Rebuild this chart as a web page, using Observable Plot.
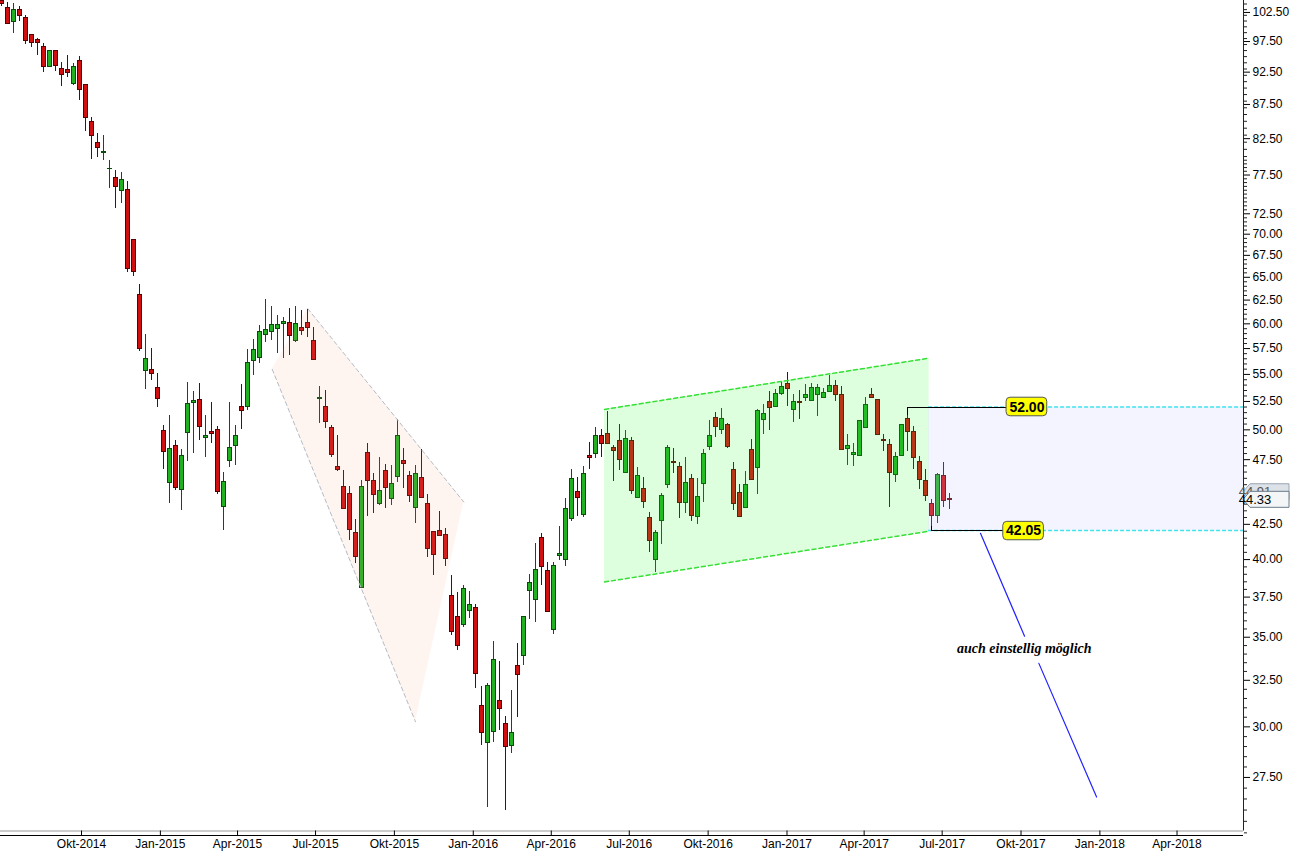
<!DOCTYPE html>
<html>
<head>
<meta charset="utf-8">
<script src="https://cdn.jsdelivr.net/npm/d3@7"></script>
<script src="https://cdn.jsdelivr.net/npm/@observablehq/plot@0.6"></script>
<style>
  html, body { margin: 0; padding: 0; background: #fff; }
  #chart svg { display: block; }
</style>
</head>
<body>
<div id="chart"></div>
<script>
// ---- Weekly OHLC (first candle: week of 2014-06-30) ----
const open = [
104.63,103.37,100.79,102.85,101.61,98.52,97.83,96.66,93.28,95.85,93.07,92.91,90.60,94.37,90.55,84.97,81.83,80.53,78.24,77.17,
75.38,75.47,69.28,63.00,55.36,55.39,53.69,49.93,45.67,48.66,45.12,49.76,52.39,52.65,49.33,49.79,50.02,43.81,47.43,48.66,
51.97,51.99,56.32,56.60,58.89,59.20,59.50,60.02,60.12,58.25,59.60,60.12,58.22,52.70,51.97,50.19,46.94,45.30,44.75,41.87,
38.12,48.08,45.75,44.04,46.62,44.42,46.13,47.43,46.21,43.73,46.05,44.04,41.93,41.98,41.71,37.60,36.26,35.77,36.64,36.83,
31.07,29.16,29.76,31.34,30.13,29.01,33.29,33.86,37.87,37.34,41.54,39.25,35.46,40.28,40.00,42.92,44.93,43.22,47.83,48.00,
49.50,49.68,48.49,49.08,46.46,49.08,44.49,45.20,42.99,40.00,42.78,45.51,47.34,46.94,44.11,45.97,43.07,45.59,48.58,51.06,
50.02,50.45,46.69,44.88,43.73,48.32,46.85,50.88,52.48,52.03,53.21,54.13,51.76,52.48,52.84,52.55,53.11,52.84,53.39,53.94,
53.11,48.41,47.91,47.83,50.19,53.11,52.65,49.16,48.75,46.29,47.83,50.97,49.85,47.34,45.75,44.04,43.14,46.21,44.40];
const high = [
105.30,104.27,104.09,103.55,101.97,98.69,98.00,97.17,96.01,96.01,94.05,95.18,93.88,95.02,90.60,85.56,83.24,82.95,79.47,78.11,
77.84,76.65,69.40,64.22,58.92,57.49,55.08,50.39,51.27,49.11,48.32,54.22,53.42,54.13,51.27,52.42,50.31,46.50,52.42,50.39,
54.04,57.42,58.38,59.84,62.57,61.83,60.88,60.64,61.61,61.83,61.41,61.50,59.60,53.85,53.51,50.34,49.50,46.62,45.32,42.84,
45.85,48.83,46.38,47.66,47.10,47.02,50.88,48.41,46.54,47.02,48.32,44.73,42.00,43.47,42.21,38.91,37.80,38.25,37.87,37.02,
32.16,32.33,34.74,33.57,30.55,31.94,34.62,36.30,38.98,41.12,41.83,39.79,39.79,42.34,44.42,46.69,46.05,46.96,48.92,50.19,
50.02,51.62,48.66,50.45,49.93,49.33,46.85,46.05,43.37,42.05,44.80,48.66,48.41,47.26,47.66,46.29,45.97,48.32,50.80,51.51,
51.85,50.54,47.26,45.51,46.54,49.16,51.76,52.21,53.39,53.57,54.32,55.17,53.11,53.46,54.04,54.13,54.04,53.66,54.88,54.41,
53.85,49.59,48.83,50.85,52.84,53.66,52.70,49.59,49.16,48.08,50.50,51.33,50.28,47.74,46.69,44.34,46.35,47.26,44.80];
const low = [
103.55,100.40,98.91,100.97,97.05,96.54,95.18,92.44,93.23,92.60,90.24,91.64,90.40,88.11,83.53,79.60,79.88,79.47,75.72,73.17,
73.81,65.55,65.10,57.25,53.57,54.44,51.94,46.74,44.08,45.06,43.49,47.31,48.00,49.05,47.71,48.80,44.73,42.07,46.90,47.02,
50.02,51.72,54.94,56.03,58.09,58.32,56.99,56.50,56.80,58.15,58.79,58.65,56.35,50.54,50.10,47.66,46.58,43.60,41.30,39.76,
38.05,43.11,43.29,43.89,43.66,43.89,45.67,45.20,44.11,42.56,44.42,40.14,38.89,41.65,39.52,35.11,34.21,35.59,36.14,32.05,
29.06,26.12,29.21,29.81,25.99,28.67,30.49,33.34,36.07,35.90,38.25,36.55,35.17,39.93,39.52,42.68,43.09,42.99,46.69,47.58,
47.66,48.75,45.75,46.62,46.40,44.73,44.42,43.66,40.49,39.11,41.04,45.24,46.38,42.92,43.29,42.70,42.48,44.11,48.24,49.33,
49.59,48.41,43.52,42.99,43.66,45.83,44.73,49.59,49.93,51.94,53.02,52.03,50.63,50.88,52.48,52.50,51.15,52.75,53.30,52.48,
48.24,47.02,46.94,47.75,50.10,52.75,49.55,48.16,43.73,45.67,47.75,48.16,46.69,45.12,44.19,42.05,42.56,43.73,43.59];
const close = [
104.09,100.45,103.01,101.84,97.55,97.22,97.22,93.28,95.85,93.45,92.01,92.33,93.40,89.66,85.45,82.85,81.16,80.67,78.32,75.90,
76.78,65.92,65.59,57.45,56.50,55.08,52.75,48.13,48.41,45.22,47.83,52.30,52.55,50.28,49.50,49.64,44.96,45.69,48.43,49.50,
51.68,56.13,57.39,59.20,59.39,59.91,59.91,60.22,58.79,59.94,59.30,59.60,56.40,52.79,50.68,47.91,46.66,43.66,42.07,40.18,
45.32,45.75,44.73,44.98,45.24,45.59,49.44,47.18,44.65,46.38,44.49,40.71,40.35,41.69,40.07,35.29,34.50,38.05,37.02,32.83,
29.66,32.21,33.68,30.96,28.96,29.66,32.77,36.26,38.45,39.31,39.52,36.58,39.59,40.37,43.66,45.97,44.49,46.32,47.66,49.50,
48.83,48.83,48.24,47.50,49.25,45.04,46.21,44.19,41.33,41.90,44.65,48.49,47.26,44.11,45.67,43.14,44.57,48.00,49.50,50.28,
50.97,48.58,44.04,43.07,45.51,45.89,51.62,51.42,51.94,53.21,53.85,53.66,52.48,52.39,53.11,53.76,53.76,53.30,53.94,53.11,
48.32,48.66,48.08,50.80,52.21,52.84,49.59,49.08,46.46,47.74,50.45,49.85,47.66,45.83,44.65,43.14,46.29,44.27,44.33];

// ---- Axis ticks ----
const xTickLabels = ["Okt-2014","Jan-2015","Apr-2015","Jul-2015","Okt-2015","Jan-2016","Apr-2016","Jul-2016",
  "Okt-2016","Jan-2017","Apr-2017","Jul-2017","Okt-2017","Jan-2018","Apr-2018"];
const xTickDates = ["2014-10-01","2015-01-01","2015-04-01","2015-07-01","2015-10-01","2016-01-01","2016-04-01","2016-07-01",
  "2016-10-01","2017-01-01","2017-04-01","2017-07-01","2017-10-01","2018-01-01","2018-04-01"];
const yTickLabels = [27.5,30,32.5,35,37.5,40,42.5,47.5,50,52.5,55,57.5,60,62.5,65,67.5,70,72.5,77.5,82.5,87.5,92.5,97.5,102.5];

// ---- Annotations (x in weeks since first candle, y in price) ----
const wedgeTop = [[51.0, 61.58], [77.0, 44.16]];
const wedgeBottom = [[45.07, 55.48], [68.95, 30.26]];
const channelTop = [[100.45, 51.79], [154.55, 56.56]];
const channelBottom = [[100.45, 38.49], [154.55, 42.00]];
const rangeStart = 154.45;
const rangeLevels = [52.00, 42.05];
const levelCandles = [151, 155];
const levelBoxes = [[167.45, 174.23, 51.18, 52.84], [166.9, 173.67, 41.35, 42.68]];
const projection = [[163.1, 41.85, 0], [170.45, 35.06, 0], [172.83, 33.46, 1], [182.45, 26.59, 1]];
const note = {w: 170.4, price: 34.34, text: "auch einstellig möglich"};
const priceTags = [44.91, 44.33];

// ---- Build ----
const WEEK = 7 * 864e5;
const t0 = Date.UTC(2014, 5, 30);
const wk = w => new Date(t0 + w * WEEK);
const xDomain = [new Date("2014-06-28T11:30:00Z"), new Date("2018-06-17T13:00:00Z")];
const yDomain = [25.08, 104.63];

const candles = open.map((o, i) => ({w: i, date: wk(i), open: o, high: high[i], low: low[i], close: close[i], up: close[i] > o}));
const labelByTime = new Map(xTickDates.map((d, i) => [new Date(d + "T00:00:00Z").getTime(), xTickLabels[i]]));

const minorTicks = [];
for (let v = 25; v <= 104.5; v += (v < 80 ? 0.5 : 1)) {
  if (!yTickLabels.includes(v)) minorTicks.push(v);
}

const area2 = (top, bottom) => top.map((t, i) => ({x1: wk(bottom[i][0]), y1: bottom[i][1], x2: wk(t[0]), y2: t[1]}));

const chart = Plot.plot({
  width: 1292,
  height: 851,
  marginLeft: 0,
  marginTop: 0,
  marginRight: 49,
  marginBottom: 20.5,
  style: {background: "#fff", fontFamily: "Liberation Sans, Arial, sans-serif", fontSize: "12px", overflow: "visible"},
  x: {type: "utc", domain: xDomain, axis: null},
  y: {type: "log", domain: yDomain, axis: null},
  marks: [
    // candles
    Plot.ruleX(candles, {x: "date", y1: "low", y2: "high", stroke: d => d.up ? "#005c00" : "#6a0000", strokeWidth: 1, shapeRendering: "crispEdges", clip: true}),
    Plot.rect(candles, {x1: d => wk(d.w - 0.3), x2: d => wk(d.w + 0.3), y1: "open", y2: "close",
      fill: d => d.up ? "#22b022" : "#d01010", stroke: d => d.up ? "#0a4a0a" : "#5a0000", strokeWidth: 1, shapeRendering: "crispEdges", clip: true}),
    // overlays
    Plot.area(area2(wedgeTop, wedgeBottom), {x1: "x1", y1: "y1", x2: "x2", y2: "y2", fill: "#f2a07c", fillOpacity: 0.11}),
    Plot.line(wedgeTop, {x: d => wk(d[0]), y: d => d[1], stroke: "#b4bcc6", strokeDasharray: "4,3", strokeWidth: 1}),
    Plot.line(wedgeBottom, {x: d => wk(d[0]), y: d => d[1], stroke: "#b4bcc6", strokeDasharray: "4,3", strokeWidth: 1}),
    Plot.area(area2(channelTop, channelBottom), {x1: "x1", y1: "y1", x2: "x2", y2: "y2", fill: "#33ff33", fillOpacity: 0.16}),
    Plot.line(channelTop, {x: d => wk(d[0]), y: d => d[1], stroke: "#33e033", strokeDasharray: "4,3", strokeWidth: 1.5}),
    Plot.line(channelBottom, {x: d => wk(d[0]), y: d => d[1], stroke: "#33e033", strokeDasharray: "4,3", strokeWidth: 1.5}),
    Plot.rect([0], {x1: wk(rangeStart), x2: xDomain[1], y1: rangeLevels[1], y2: rangeLevels[0], fill: "#c4caff", fillOpacity: 0.2}),
    Plot.ruleY(rangeLevels, {x1: wk(rangeStart), x2: xDomain[1], stroke: "#40e4ec", strokeDasharray: "4,2", strokeWidth: 1.5}),
    // level connectors
    Plot.line([[levelCandles[0], high[levelCandles[0]]], [levelCandles[0], rangeLevels[0]], [levelBoxes[0][0], rangeLevels[0]]],
      {x: d => wk(d[0]), y: d => d[1], stroke: "#000", strokeWidth: 1, shapeRendering: "crispEdges"}),
    Plot.line([[levelCandles[1], 42.35], [levelCandles[1], rangeLevels[1]], [levelBoxes[1][0], rangeLevels[1]]],
      {x: d => wk(d[0]), y: d => d[1], stroke: "#000", strokeWidth: 1, shapeRendering: "crispEdges"}),
    Plot.rect(levelBoxes, {x1: d => wk(d[0]), x2: d => wk(d[1]), y1: d => d[2], y2: d => d[3], fill: "#ffff00", stroke: "#555", strokeWidth: 1, rx: 4}),
    Plot.text(levelBoxes, {x: d => wk((d[0] + d[1]) / 2), y: (d, i) => rangeLevels[i], text: (d, i) => rangeLevels[i].toFixed(2),
      fontWeight: "bold", fontSize: 14, fill: "#000", fontFamily: "Liberation Sans, Arial, sans-serif"}),
    // projection
    Plot.line(projection, {x: d => wk(d[0]), y: d => d[1], z: d => d[2], stroke: "#2222ff", strokeWidth: 1.2}),
    Plot.text([note], {x: d => wk(d.w), y: "price", text: "text", fontStyle: "italic", fontWeight: "bold", fontSize: 14,
      fontFamily: "Liberation Serif, Times New Roman, serif", fill: "#000"}),
    // frame / axes
    Plot.ruleY([yDomain[0]], {stroke: "#9a9a9a"}),
    Plot.ruleY([yDomain[0]], {stroke: "#000", dy: 4.5}),
    Plot.ruleX([xDomain[1]], {stroke: "#222"}),
    Plot.axisY({ticks: minorTicks, anchor: "right", tickSize: 3, tickFormat: () => "", label: null, stroke: "#222"}),
    Plot.axisY({ticks: yTickLabels, anchor: "right", tickSize: 6, tickPadding: 3, tickFormat: d => d.toFixed(2), label: null,
      fontSize: 12, color: "#000", fontFamily: "Liberation Sans, Arial, sans-serif"}),
    Plot.axisX({ticks: xTickDates.map(d => new Date(d + "T00:00:00Z")), tickFormat: d => labelByTime.get(d.getTime()), tickSize: 5,
      tickPadding: 3, label: null, fontSize: 12, color: "#000", fontFamily: "Liberation Sans, Arial, sans-serif"})
  ]
});

document.getElementById("chart").appendChild(chart);

// right-hand price tags using the chart's own scales
const ys = chart.scale("y"), xs = chart.scale("x");
const x0 = xs.apply(xDomain[1]);
const svg = d3.select(chart);
priceTags.forEach((v, i) => {
  const yy = ys.apply(v);
  const g = svg.append("g");
  const last = i === priceTags.length - 1;
  g.append("path")
    .attr("d", `M${x0},${yy} L${x0 + 7},${yy - 8} L${x0 + 46},${yy - 8} L${x0 + 46},${yy + 8} L${x0 + 7},${yy + 8} Z`)
    .attr("fill", last ? "#f3f5f7" : "#dde2e8")
    .attr("stroke", last ? "#6a7a8a" : "#98a4b0");
  g.append("text")
    .attr("x", x0 + 12).attr("y", yy).attr("dy", "0.36em")
    .attr("font-size", 13).attr("font-family", "Liberation Sans, Arial, sans-serif")
    .attr("fill", last ? "#000" : "#555")
    .text(v.toFixed(2));
});
</script>
</body>
</html>
